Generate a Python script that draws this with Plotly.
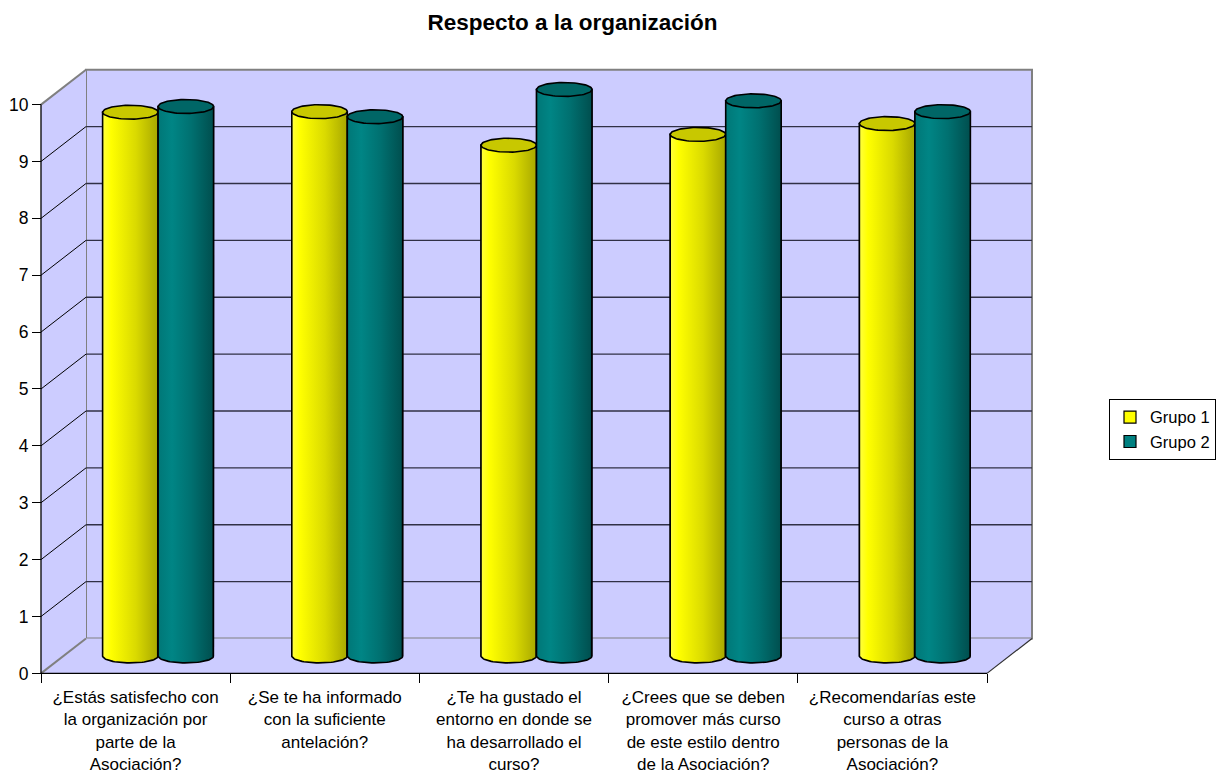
import numpy as np
import plotly.graph_objects as go

# ---------------- data ----------------
categories = [
    "¿Estás satisfecho con<br>la organización por<br>parte de la<br>Asociación?",
    "¿Se te ha informado<br>con la suficiente<br>antelación?",
    "¿Te ha gustado el<br>entorno en donde se<br>ha desarrollado el<br>curso?",
    "¿Crees que se deben<br>promover más curso<br>de este estilo dentro<br>de la Asociación?",
    "¿Recomendarías este<br>curso a otras<br>personas de la<br>Asociación?",
]
grupo1 = [9.56, 9.57, 8.98, 9.17, 9.36]
grupo2 = [9.66, 9.48, 9.96, 9.76, 9.57]
series_names = ["Grupo 1", "Grupo 2"]
y_ticks = [0, 1, 2, 3, 4, 5, 6, 7, 8, 9, 10]
title_text = "Respecto a la organización"

# ---------------- geometry / style ----------------
W, H = 1221, 774
N = len(categories)
PXX = 189.2          # pixels per category
PXY = 57.1           # pixels per value unit
ORIG_X, ORIG_Y = 41, 676
DOM_L, DOM_R, DOM_T, DOM_B = 31, 1042, 60, 686
X0, X1 = -0.5, N - 0.5
YMAX = y_ticks[-1]
xr = [X0 - (ORIG_X - DOM_L) / PXX, X0 + (DOM_R - ORIG_X) / PXX]
yr = [-(DOM_B - ORIG_Y) / PXY, (ORIG_Y - DOM_T) / PXY]
DX = 45 / PXX
DY = 35 / PXY
BW = 55.5 / PXX
EB = 7 / PXY
BASE = DY / 2

FONT = "Liberation Sans, Arial, Helvetica, sans-serif"
WALL = "#CCCCFF"
EDGE = "#808080"

fills = [
    dict(solid="#FFFF00", top="#C8C800",
         scale=[[0, "#FFFF40"], [0.15, "#FFFF00"], [0.6, "#DADA00"], [1, "#A8A800"]]),
    dict(solid="#008080", top="#006666",
         scale=[[0, "#007777"], [0.25, "#008585"], [0.6, "#007070"], [1, "#004E4E"]]),
]

fig = go.Figure()

# bar traces (legend + body)
for s, vals in enumerate([grupo1, grupo2]):
    xs = [i + DX / 2 + (s - 0.5) * BW for i in range(N)]
    fig.add_trace(go.Bar(
        x=xs, y=vals, base=[BASE] * N, width=BW, name=series_names[s],
        legendgroup=series_names[s],
        marker=dict(color=fills[s]["solid"], line=dict(color="black", width=1.2)),
        hoverinfo="skip",
    ))

# cylinder shading overlays derived from the same values
t_half = np.linspace(0, np.pi, 40)
t_full = np.linspace(0, 2 * np.pi, 80)
a = BW / 2
for i in range(N):
    for s, vals in enumerate([grupo1, grupo2]):
        xc = i + DX / 2 + (s - 0.5) * BW
        top = BASE + vals[i]
        bx = [xc - a, xc - a, xc + a, xc + a] + list(xc + a * np.cos(t_half))
        by = [BASE, top, top, BASE] + list(BASE - EB * np.sin(t_half))
        fig.add_trace(go.Scatter(
            x=bx, y=by, mode="lines", fill="toself",
            fillgradient=dict(type="horizontal", colorscale=fills[s]["scale"]),
            line=dict(color="black", width=1.6), showlegend=False, hoverinfo="skip",
        ))
        fig.add_trace(go.Scatter(
            x=list(xc + a * np.cos(t_full)), y=list(top + EB * np.sin(t_full)),
            mode="lines", fill="toself", fillcolor=fills[s]["top"],
            line=dict(color="black", width=1.6), showlegend=False, hoverinfo="skip",
        ))

# ---------------- 3D frame ----------------
shapes = []
shapes.append(dict(type="rect", xref="x", yref="y", x0=X0 + DX, x1=X1 + DX, y0=DY, y1=YMAX + DY,
                   fillcolor=WALL, line=dict(color=EDGE, width=2), layer="below"))
shapes.append(dict(type="path", xref="x", yref="y",
                   path=f"M{X0},0 L{X0},{YMAX} L{X0+DX},{YMAX+DY} L{X0+DX},{DY} Z",
                   fillcolor=WALL, line=dict(width=0), layer="below"))
shapes.append(dict(type="path", xref="x", yref="y",
                   path=f"M{X0},0 L{X1},0 L{X1+DX},{DY} L{X0+DX},{DY} Z",
                   fillcolor=WALL, line=dict(width=0), layer="below"))
for k in y_ticks[1:-1]:
    shapes.append(dict(type="line", xref="x", yref="y", x0=X0 + DX, x1=X1 + DX, y0=k + DY, y1=k + DY,
                       line=dict(color="#303045", width=1.4), layer="below"))
    shapes.append(dict(type="line", xref="x", yref="y", x0=X0, x1=X0 + DX, y0=k, y1=k + DY,
                       line=dict(color="black", width=1), layer="below"))
# gray edges
shapes.append(dict(type="line", xref="x", yref="y", x0=X0, x1=X0 + DX, y0=YMAX, y1=YMAX + DY,
                   line=dict(color=EDGE, width=2), layer="below"))
shapes.append(dict(type="line", xref="x", yref="y", x0=X0, x1=X0 + DX, y0=0, y1=DY,
                   line=dict(color=EDGE, width=2), layer="below"))
shapes.append(dict(type="line", xref="x", yref="y", x0=X1, x1=X1 + DX, y0=0, y1=DY,
                   line=dict(color="#303030", width=1.2), layer="below"))
# front axis lines
shapes.append(dict(type="line", xref="x", yref="y", x0=X0, x1=X0, y0=0, y1=YMAX,
                   line=dict(color="black", width=1.3), layer="above"))
shapes.append(dict(type="line", xref="x", yref="y", x0=X0, x1=X1, y0=0, y1=0,
                   line=dict(color="black", width=1.3), layer="above"))

fig.update_layout(
    width=W, height=H, autosize=False,
    margin=dict(l=0, r=0, t=0, b=0),
    paper_bgcolor="white", plot_bgcolor="rgba(0,0,0,0)",
    barmode="overlay",
    font=dict(family=FONT, color="black"),
    title=dict(text=f"<b>{title_text}</b>", x=572.5 / W, xanchor="center",
               y=1 - 22 / H, yanchor="middle", xref="container", yref="container",
               font=dict(size=22.5, family=FONT, color="black")),
    xaxis=dict(
        domain=[DOM_L / W, DOM_R / W], range=xr, anchor="free", position=1 - ORIG_Y / H,
        tickmode="array", tickvals=list(range(N)), ticktext=categories,
        ticks="", showgrid=False, zeroline=False, showline=False,
        ticklabelstandoff=12,
        tickfont=dict(size=17, family=FONT, color="black"),
        minor=dict(tickmode="array", tickvals=[i - 0.5 for i in range(N + 1)],
                   ticks="outside", ticklen=9, tickcolor="black", tickwidth=1.2, showgrid=False),
        fixedrange=True,
    ),
    yaxis=dict(
        domain=[1 - DOM_B / H, 1 - DOM_T / H], range=yr, anchor="free", position=ORIG_X / W,
        tickmode="array", tickvals=y_ticks, ticks="outside", ticklen=9,
        tickcolor="black", tickwidth=1.2,
        showgrid=False, zeroline=False, showline=False,
        tickfont=dict(size=17.5, family=FONT, color="black"),
        fixedrange=True,
    ),
    legend=dict(x=1109 / W, xanchor="left", y=1 - 431 / H, yanchor="middle",
                bordercolor="black", borderwidth=1, bgcolor="white", tracegroupgap=3,
                font=dict(size=16.5, family=FONT, color="black"), traceorder="normal"),
    shapes=shapes,
)

fig.write_html(
    "out.html",
    config={"displayModeBar": False},
    post_script="document.body.style.margin='0px';document.body.style.overflow='hidden';",
)
